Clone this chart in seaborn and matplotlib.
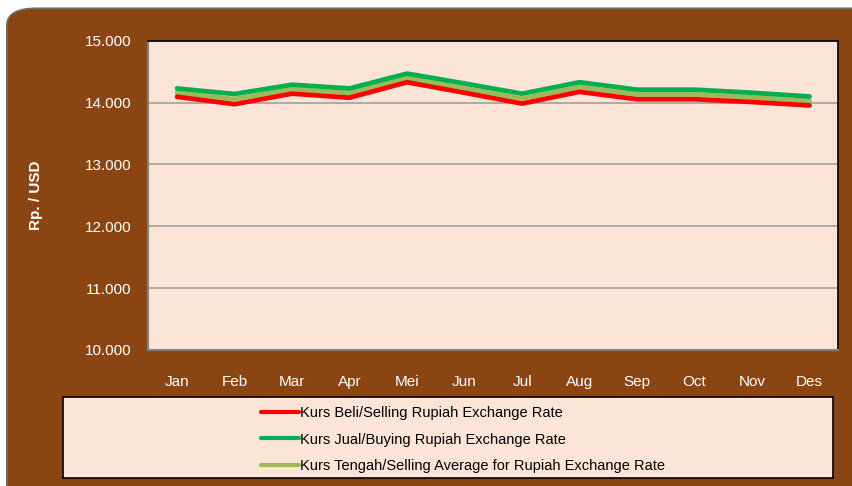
import pandas as pd
import seaborn as sns
import matplotlib.pyplot as plt
from matplotlib.patches import FancyBboxPatch
from matplotlib.ticker import FuncFormatter

# Monthly exchange rates (Rp./USD)
months = ["Jan", "Feb", "Mar", "Apr", "Mei", "Jun", "Jul", "Aug", "Sep", "Oct", "Nov", "Des"]
kurs_beli = [14095, 13975, 14145, 14080, 14330, 14160, 13985, 14175, 14055, 14055, 14010, 13955]
kurs_jual = [14230, 14140, 14290, 14230, 14470, 14310, 14145, 14330, 14210, 14210, 14160, 14100]
kurs_tengah = [(b + j) / 2 for b, j in zip(kurs_beli, kurs_jual)]

labels = ["Kurs Beli/Selling Rupiah Exchange Rate",
          "Kurs Jual/Buying Rupiah Exchange Rate",
          "Kurs Tengah/Selling Average for Rupiah Exchange Rate"]
colors = ["#FF0000", "#00B050", "#9BBB59"]

df = pd.DataFrame({"Month": months * 3,
                   "Rate": kurs_beli + kurs_jual + kurs_tengah,
                   "Series": [labels[0]] * 12 + [labels[1]] * 12 + [labels[2]] * 12})

sns.set_style("white")
plt.rcParams['font.family'] = ['Liberation Sans Narrow', 'Liberation Sans', 'DejaVu Sans']

fig = plt.figure(figsize=(8.52, 4.86), dpi=100)
fig.patch.set_facecolor("white")
bg = FancyBboxPatch((0.008, -0.05), 1.05, 1.033, boxstyle="round,pad=0,rounding_size=0.035",
                    transform=fig.transFigure, facecolor="#8B4513", edgecolor="#6E6E6E",
                    linewidth=1.2, zorder=-10)
fig.patches.append(bg)

ax = fig.add_axes([0.174, 0.28, 0.81, 0.636])
ax.set_facecolor("#FCE4D6")

# draw average first so the other two sit on top of it
order = [labels[2], labels[1], labels[0]]
pal = dict(zip(labels, colors))
for name in order:
    sub = df[df["Series"] == name]
    sns.lineplot(data=sub, x="Month", y="Rate", color=pal[name], linewidth=3.4,
                 ax=ax, legend=False, sort=False)

ax.set_ylim(10000, 15000)
ax.set_xlim(-0.5, 11.5)
ax.set_yticks([10000, 11000, 12000, 13000, 14000, 15000])
ax.yaxis.set_major_formatter(FuncFormatter(lambda v, p: f"{int(v):,}".replace(",", ".")))
ax.grid(axis="y", color="#A0A0A0", linewidth=1.2)
ax.set_axisbelow(True)
ax.tick_params(axis="both", colors="white", labelsize=11, length=0, pad=18)
ax.tick_params(axis="y", pad=12)
for s in ["top", "right"]:
    ax.spines[s].set_color("black")
    ax.spines[s].set_linewidth(1.2)
for s in ["left", "bottom"]:
    ax.spines[s].set_color("#808080")
    ax.spines[s].set_linewidth(1.5)
ax.set_xlabel("")
ax.set_ylabel("Rp. / USD", color="white", fontsize=11, fontweight="bold", labelpad=30)

# legend box
lax = fig.add_axes([0.074, 0.017, 0.904, 0.167])
lax.set_facecolor("#FCE4D6")
lax.set_xticks([])
lax.set_yticks([])
for s in lax.spines.values():
    s.set_color("black")
    s.set_linewidth(1.2)
handles = [plt.Line2D([], [], color=c, linewidth=3) for c in colors]
leg = lax.legend(handles, labels, loc="center left", bbox_to_anchor=(0.24, 0.47),
                 frameon=False, fontsize=10.5, handlelength=2.6, handletextpad=0.1,
                 labelspacing=0.85)
for t in leg.get_texts():
    t.set_color("black")

plt.savefig("out.png", dpi=100, facecolor=fig.get_facecolor())
